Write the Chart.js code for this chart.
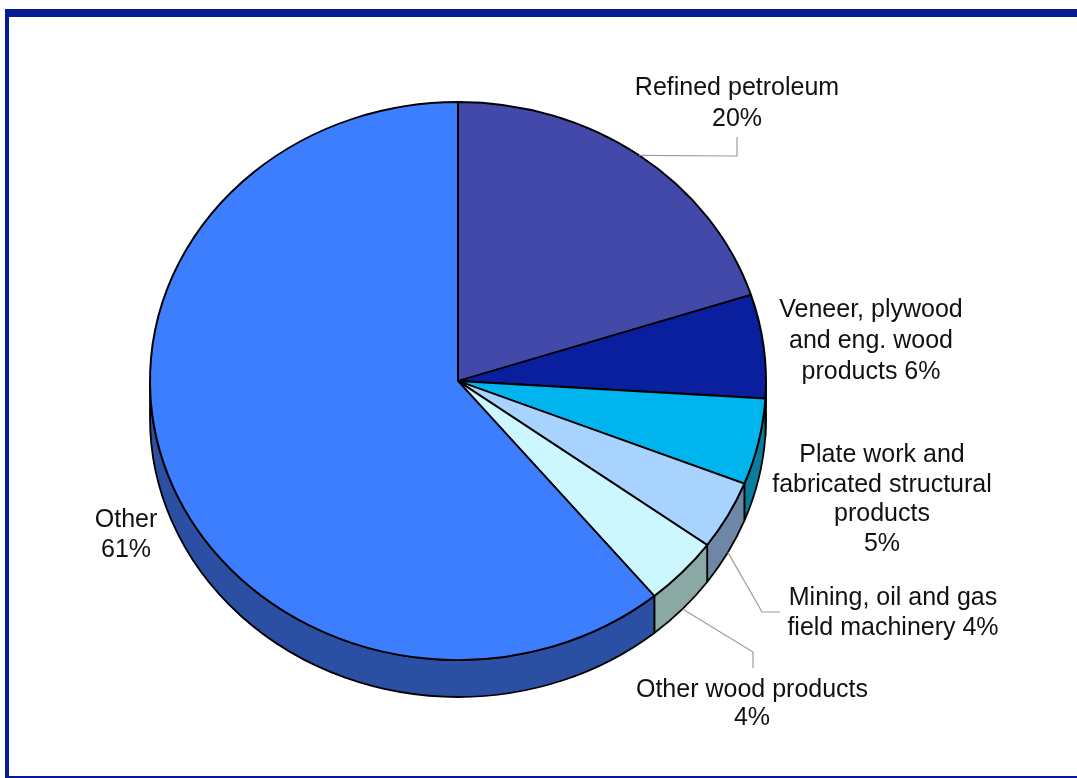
<!DOCTYPE html>
<html lang="en">
<head>
<meta charset="UTF-8" />
<title>Share of exports pie</title>
<script src="https://cdn.jsdelivr.net/npm/chart.js"></script>
<style>
  body { margin: 0; background: #fff; }
  #wrap { position: relative; width: 1077px; height: 778px; overflow: hidden; }
  .bar { position: absolute; background: #061a96; }
</style>
</head>
<body>
<div id="wrap">
  <canvas id="pieChart" width="1077" height="778"></canvas>
  <!-- frame -->
  <div class="bar" style="left:5px;top:9px;width:1072px;height:8px"></div>
  <div class="bar" style="left:5px;top:9px;width:4px;height:769px"></div>
  <div class="bar" style="left:5px;top:776px;width:1072px;height:2px"></div>
</div>

<script>
  // data
  const categories = ["Refined petroleum", "Veneer, plywood and eng. wood products",
    "Plate work and fabricated structural products", "Mining, oil and gas field machinery",
    "Other wood products", "Other"];
  const shares = [20, 6, 5, 4, 4, 61];
  // label text, {p} is replaced by the share
  const labelText = ["Refined petroleum\n{p}", "Veneer, plywood\nand eng. wood\nproducts {p}",
    "Plate work and\nfabricated structural\nproducts\n{p}", "Mining, oil and gas\nfield machinery {p}",
    "Other wood products\n{p}", "Other\n{p}"];

  // styles / layout
  const topColors = ["#4349a9", "#0a1f9e", "#00b5ee", "#a9d3ff", "#ccf7ff", "#3d7eff"];
  const sideColors = ["#2c3175", "#06166e", "#0a7c9e", "#6e87a6", "#8aa8a4", "#2b50a3"];
  const TILT = 279 / 308;
  const DEPTH = 37;
  const labelPos = [
    { x: 737, y: 95, gap: 31 },
    { x: 871, y: 317, gap: 31 },
    { x: 882, y: 462, gap: 29.5 },
    { x: 893, y: 605, gap: 30 },
    { x: 752, y: 697, gap: 28 },
    { x: 126, y: 527, gap: 30 }
  ];
  // leader line elbows, the last point is taken from the slice itself
  const leaders = [
    [[737, 137], [737, 156]],
    null,
    null,
    [[780, 612], [762, 612]],
    [[753, 668], [753, 652]],
    null
  ];

  const pie3d = {
    id: 'pie3d',
    beforeDatasetsDraw(chart) {
      const ctx = chart.ctx;
      const arcs = chart.getDatasetMeta(0).data;
      ctx.save();
      ctx.lineWidth = 1.8;
      ctx.strokeStyle = '#000';
      ctx.lineJoin = 'round';
      arcs.forEach((arc, i) => {
        const p = arc.getProps(['x', 'y', 'startAngle', 'endAngle', 'outerRadius'], true);
        const a0 = Math.max(p.startAngle, 0), a1 = Math.min(p.endAngle, Math.PI);
        if (a1 <= a0) return;
        const rx = p.outerRadius, ry = p.outerRadius * TILT;
        ctx.beginPath();
        ctx.ellipse(p.x, p.y, rx, ry, 0, a0, a1);
        ctx.ellipse(p.x, p.y + DEPTH, rx, ry, 0, a1, a0, true);
        ctx.closePath();
        ctx.fillStyle = sideColors[i];
        ctx.fill();
        ctx.stroke();
      });
      ctx.restore();
      // squash the top face into an ellipse
      const c = arcs[0];
      ctx.save();
      ctx.translate(c.x, c.y);
      ctx.scale(1, TILT);
      ctx.translate(-c.x, -c.y);
    },
    afterDatasetsDraw(chart) {
      chart.ctx.restore();
    },
    afterDraw(chart) {
      const ctx = chart.ctx;
      const arcs = chart.getDatasetMeta(0).data;
      ctx.save();
      // leader lines
      ctx.strokeStyle = '#9c9c9c';
      ctx.lineWidth = 1.2;
      leaders.forEach((pts, i) => {
        if (!pts) return;
        const a = arcs[i];
        const mid = (a.startAngle + a.endAngle) / 2;
        const ex = a.x + a.outerRadius * Math.cos(mid);
        let ey = a.y + a.outerRadius * TILT * Math.sin(mid);
        if (Math.sin(mid) > 0) ey += DEPTH;
        ctx.beginPath();
        ctx.moveTo(pts[0][0], pts[0][1]);
        for (let k = 1; k < pts.length; k++) ctx.lineTo(pts[k][0], pts[k][1]);
        ctx.lineTo(ex, ey);
        ctx.stroke();
      });
      // labels
      ctx.fillStyle = '#111';
      ctx.font = '25px "Liberation Sans", Arial, sans-serif';
      ctx.textAlign = 'center';
      ctx.textBaseline = 'alphabetic';
      labelText.forEach((t, i) => {
        const lines = t.replace('{p}', shares[i] + '%').split('\n');
        const lp = labelPos[i];
        lines.forEach((ln, k) => ctx.fillText(ln, lp.x, lp.y + k * lp.gap));
      });
      ctx.restore();
    }
  };

  new Chart(document.getElementById('pieChart'), {
    type: 'pie',
    data: {
      labels: categories,
      datasets: [{
        data: shares,
        backgroundColor: topColors,
        borderColor: '#000',
        borderWidth: 2,
        radius: 308
      }]
    },
    options: {
      responsive: false,
      animation: false,
      events: [],
      layout: { padding: { left: 0, right: 161, top: 0, bottom: 16 } },
      plugins: {
        legend: { display: false },
        tooltip: { enabled: false },
        title: { display: false }
      }
    },
    plugins: [pie3d]
  });
</script>
</body>
</html>
